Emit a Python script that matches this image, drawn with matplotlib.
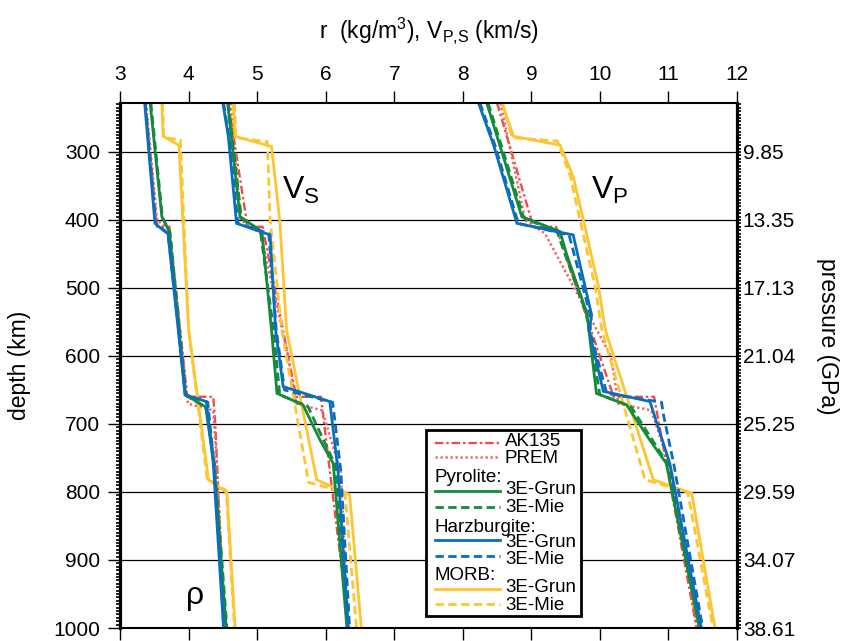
import matplotlib
matplotlib.use('Agg')
import matplotlib.pyplot as plt
from matplotlib.lines import Line2D
from matplotlib.ticker import MultipleLocator, FixedLocator
import numpy as np

plt.rcParams['font.family'] = ['Liberation Sans', 'DejaVu Sans']
plt.rcParams['mathtext.fontset'] = 'custom'
plt.rcParams['mathtext.rm'] = 'Liberation Sans'

# ---- data (depth in km, values in g/cm3 or km/s) ----
depth_major = [300, 400, 500, 600, 700, 800, 900, 1000]
pressure_labels = ['9.85', '13.35', '17.13', '21.04', '25.25', '29.59', '34.07', '38.61']

# reference models
ak135_d_rho = [228, 410, 410, 660, 660, 700, 1000]
ak135_rho = [3.37, 3.54, 3.72, 3.98, 4.36, 4.39, 4.52]
ak135_d_vs = [228, 410, 410, 660, 660, 1000]
ak135_vs = [4.58, 4.86, 5.08, 5.57, 5.93, 6.34]
ak135_d_vp = [228, 410, 410, 660, 660, 1000]
ak135_vp = [8.50, 9.03, 9.36, 10.20, 10.79, 11.41]

prem_d_rho = [228, 400, 415, 670, 680, 771, 1000]
prem_rho = [3.38, 3.54, 3.72, 3.99, 4.36, 4.42, 4.53]
prem_d_vs = [228, 400, 420, 600, 670, 680, 771, 1000]
prem_vs = [4.62, 4.76, 5.05, 5.45, 5.57, 5.95, 6.22, 6.33]
prem_d_vp = [228, 400, 420, 600, 670, 680, 771, 1000]
prem_vp = [8.55, 8.91, 9.20, 10.16, 10.27, 10.75, 11.05, 11.42]

# pyrolite
pyr_grun_d_rho = [228, 395, 417, 657, 675, 760, 1000]
pyr_grun_rho = [3.44, 3.61, 3.72, 3.95, 4.25, 4.37, 4.55]
pyr_mie_d_rho = [228, 397, 418, 658, 676, 760, 1000]
pyr_mie_rho = [3.45, 3.62, 3.73, 3.96, 4.26, 4.38, 4.56]
pyr_grun_d_vs = [228, 395, 417, 562, 655, 672, 724, 758, 1000]
pyr_grun_vs = [4.57, 4.75, 5.07, 5.21, 5.29, 5.67, 5.92, 6.11, 6.31]
pyr_mie_d_vs = [228, 397, 418, 562, 657, 674, 726, 760, 1000]
pyr_mie_vs = [4.58, 4.77, 5.05, 5.24, 5.33, 5.74, 5.98, 6.14, 6.33]
pyr_grun_d_vp = [228, 395, 417, 449, 537, 655, 672, 724, 758, 1000]
pyr_grun_vp = [8.35, 8.86, 9.42, 9.51, 9.81, 9.95, 10.39, 10.73, 10.97, 11.45]
pyr_mie_d_vp = [228, 397, 418, 450, 537, 657, 674, 726, 760, 1000]
pyr_mie_vp = [8.37, 8.89, 9.38, 9.49, 9.80, 10.00, 10.45, 10.78, 11.00, 11.47]

# harzburgite
hz_grun_d_rho = [228, 405, 415, 420, 657, 667, 757, 1000]
hz_grun_rho = [3.36, 3.51, 3.63, 3.70, 3.95, 4.26, 4.36, 4.51]
hz_mie_d_rho = [228, 405, 420, 657, 668, 757, 1000]
hz_mie_rho = [3.37, 3.52, 3.70, 3.96, 4.28, 4.37, 4.52]
hz_grun_d_vs = [228, 277, 405, 422, 562, 645, 667, 768, 1000]
hz_grun_vs = [4.50, 4.58, 4.70, 5.19, 5.27, 5.38, 6.06, 6.18, 6.33]
hz_mie_d_vs = [228, 277, 405, 420, 562, 650, 668, 683, 768, 1000]
hz_mie_vs = [4.51, 4.59, 4.72, 5.17, 5.28, 5.40, 6.10, 6.12, 6.22, 6.35]
hz_grun_d_vp = [228, 290, 405, 422, 540, 562, 652, 667, 758, 1000]
hz_grun_vp = [8.23, 8.45, 8.79, 9.61, 9.88, 9.84, 10.05, 10.73, 11.02, 11.48]
hz_mie_d_vp = [228, 290, 405, 422, 540, 565, 655, 668, 683, 760, 1000]
hz_mie_vp = [8.25, 8.47, 8.81, 9.55, 9.86, 9.86, 10.10, 10.90, 10.92, 11.08, 11.50]

# MORB
morb_grun_d_rho = [228, 277, 290, 560, 782, 801, 1000]
morb_grun_rho = [3.61, 3.63, 3.86, 4.00, 4.29, 4.56, 4.68]
morb_mie_d_rho = [228, 279, 282, 560, 780, 798, 1000]
morb_mie_rho = [3.62, 3.64, 3.88, 4.00, 4.27, 4.55, 4.67]
morb_grun_d_vs = [228, 277, 292, 400, 562, 782, 804, 1000]
morb_grun_vs = [4.65, 4.68, 5.21, 5.33, 5.43, 5.87, 6.35, 6.52]
morb_mie_d_vs = [228, 279, 285, 400, 562, 786, 800, 1000]
morb_mie_vs = [4.67, 4.69, 5.15, 5.19, 5.36, 5.75, 6.28, 6.45]
morb_grun_d_vp = [228, 277, 290, 336, 400, 498, 562, 782, 802, 1000]
morb_grun_vp = [8.57, 8.74, 9.42, 9.61, 9.76, 9.98, 10.08, 10.78, 11.34, 11.68]
morb_mie_d_vp = [228, 279, 284, 336, 400, 498, 562, 782, 800, 1000]
morb_mie_vp = [8.58, 8.72, 9.38, 9.57, 9.71, 9.93, 10.03, 10.66, 11.28, 11.65]

# ---- styles ----
RED = '#ee4b4b'
RED_DOT = '#f26262'
GREEN = '#138a3c'
BLUE = '#0a6ebd'
YELLOW = '#fdc530'
LW = 2.0
styles = {
    'ak135': dict(color=RED, lw=1.7, dashes=(3.5, 1.3, 1.0, 1.3)),
    'prem': dict(color=RED_DOT, lw=1.8, dashes=(0.9, 1.1)),
    'grun_g': dict(color=GREEN, lw=LW),
    'mie_g': dict(color=GREEN, lw=LW, dashes=(3.0, 1.6)),
    'grun_b': dict(color=BLUE, lw=LW),
    'mie_b': dict(color=BLUE, lw=LW, dashes=(3.0, 1.6)),
    'grun_y': dict(color=YELLOW, lw=LW),
    'mie_y': dict(color=YELLOW, lw=LW, dashes=(3.0, 1.6)),
}

W, H = 843, 641
fig = plt.figure(figsize=(W / 100, H / 100), dpi=100)
ax = fig.add_axes([120 / W, 1 - 628 / H, 617 / W, 525 / H])

curves = [
    ('ak135', [(ak135_rho, ak135_d_rho), (ak135_vs, ak135_d_vs), (ak135_vp, ak135_d_vp)]),
    ('prem', [(prem_rho, prem_d_rho), (prem_vs, prem_d_vs), (prem_vp, prem_d_vp)]),
    ('mie_y', [(morb_mie_rho, morb_mie_d_rho), (morb_mie_vs, morb_mie_d_vs), (morb_mie_vp, morb_mie_d_vp)]),
    ('grun_y', [(morb_grun_rho, morb_grun_d_rho), (morb_grun_vs, morb_grun_d_vs), (morb_grun_vp, morb_grun_d_vp)]),
    ('mie_g', [(pyr_mie_rho, pyr_mie_d_rho), (pyr_mie_vs, pyr_mie_d_vs), (pyr_mie_vp, pyr_mie_d_vp)]),
    ('grun_g', [(pyr_grun_rho, pyr_grun_d_rho), (pyr_grun_vs, pyr_grun_d_vs), (pyr_grun_vp, pyr_grun_d_vp)]),
    ('mie_b', [(hz_mie_rho, hz_mie_d_rho), (hz_mie_vs, hz_mie_d_vs), (hz_mie_vp, hz_mie_d_vp)]),
    ('grun_b', [(hz_grun_rho, hz_grun_d_rho), (hz_grun_vs, hz_grun_d_vs), (hz_grun_vp, hz_grun_d_vp)]),
]
for key, parts in curves:
    for vals, dep in parts:
        ax.plot(vals, dep, solid_joinstyle='miter', **styles[key])

ax.set_xlim(3, 12)
ax.set_ylim(1000, 228)
ax.set_yticks(depth_major)
ax.yaxis.set_minor_locator(MultipleLocator(5))
ax.set_xticks(np.arange(3, 13))
ax.grid(axis='y', which='major', color='black', lw=0.9)
ax.xaxis.tick_top()
ax.xaxis.set_label_position('top')
ax.tick_params(axis='x', which='both', bottom=True, top=True, labelbottom=False,
               labeltop=True, direction='out', length=8.4, width=1.0, pad=5, labelsize=15)
ax.tick_params(axis='y', which='major', direction='out', length=8.4, width=1.0, pad=6, labelsize=15)
ax.tick_params(axis='y', which='minor', direction='out', length=3.2, width=1.2)
for s, w in [('left', 2.3), ('right', 2.3), ('top', 1.5), ('bottom', 1.5)]:
    ax.spines[s].set_linewidth(w)

ax.set_xlabel(r'r  (kg/m$^\mathregular{3}$), V$_\mathregular{P{,}S}$ (km/s)', fontsize=16.5, labelpad=20)
ax.set_ylabel('depth (km)', fontsize=16.5)
ax.yaxis.set_label_coords(-0.145, 0.5)

ax2 = ax.twinx()
ax2.set_ylim(ax.get_ylim())
ax2.yaxis.set_major_locator(FixedLocator(depth_major))
ax2.set_yticklabels(pressure_labels)
ax2.yaxis.set_minor_locator(MultipleLocator(5))
ax2.tick_params(axis='y', which='both', direction='out', length=3.2, width=1.2, pad=1, labelsize=15)
for s in ax2.spines.values():
    s.set_visible(False)
ax2.set_ylabel('pressure (GPa)', fontsize=16.5, rotation=270)
ax2.yaxis.set_label_coords(1.165, 0.555)

ax.text(5.37, 368, r'V$_\mathregular{S}$', fontsize=23, ha='left', va='baseline')
ax.text(9.87, 368, r'V$_\mathregular{P}$', fontsize=23, ha='left', va='baseline')
ax.text(3.96, 965, 'ρ', fontsize=23, ha='left', va='baseline')

# ---- legend, drawn by hand in figure pixels ----
def fx(x):
    return x / W

def fy(y):
    return 1 - y / H

box = plt.Rectangle((fx(426), fy(616)), fx(581) - fx(426), fy(430) - fy(616),
                    transform=fig.transFigure, facecolor='white', edgecolor='black',
                    lw=2.0, zorder=10)
fig.add_artist(box)

leg_rows = [
    ('ak135', 442.5, 'AK135', 441.5),
    ('prem', 456.5, 'PREM', 458.5),
    (None, 477, 'Pyrolite:', None),
    ('grun_g', 490.5, '3E-Grun', 489),
    ('mie_g', 507, '3E-Mie', 507),
    (None, 527, 'Harzburgite:', None),
    ('grun_b', 540, '3E-Grun', 542.5),
    ('mie_b', 556, '3E-Mie', 559.5),
    (None, 575, 'MORB:', None),
    ('grun_y', 588.5, '3E-Grun', 587.5),
    ('mie_y', 604, '3E-Mie', 605),
]
for key, ly, label, ty in leg_rows:
    if key is None:
        fig.text(fx(434), fy(ly), label, fontsize=13.5, ha='left', va='center', zorder=11)
    else:
        ln = Line2D([fx(435), fx(500)], [fy(ly), fy(ly)], transform=fig.transFigure,
                    zorder=11, **styles[key])
        fig.add_artist(ln)
        fig.text(fx(505), fy(ty), label, fontsize=13.5, ha='left', va='center', zorder=11)

fig.savefig('out.png', dpi=100)
